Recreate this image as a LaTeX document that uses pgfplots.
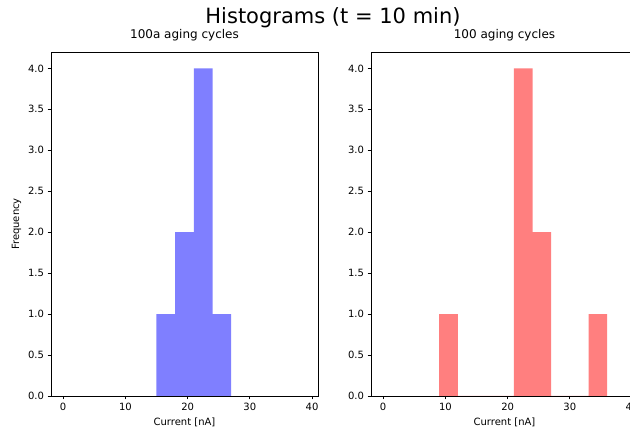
\documentclass[border=0pt]{standalone}
\usepackage{fontspec}
\setmainfont{DejaVu Sans}
\usepackage{pgfplots}
\pgfplotsset{compat=1.18}

\definecolor{histblue}{HTML}{7F7FFF}
\definecolor{histred}{HTML}{FF7F7F}

\pgfplotsset{
  histax/.style={
    scale only axis, width=267pt, height=344pt, anchor=south west,
    xmin=-1.95, xmax=40.95, ymin=0, ymax=4.2,
    xtick={0,10,20,30,40},
    ytick={0,0.5,1,1.5,2,2.5,3,3.5,4},
    yticklabel style={/pgf/number format/fixed, /pgf/number format/precision=1,
      /pgf/number format/fixed zerofill},
    /pgf/number format/assume math mode=true,
    tick align=outside, tick pos=left, major tick length=3.5pt,
    every tick/.style={black, line width=0.8pt},
    axis line style={black, line width=0.8pt},
    ticklabel style={font=\fontsize{10}{12}\selectfont},
    label style={font=\fontsize{10}{12}\selectfont},
    title style={font=\fontsize{12}{14}\selectfont, at={(0.5,1)}, anchor=base, yshift=7pt},
    xlabel={Current [nA]},
  },
}

\begin{document}
\begin{tikzpicture}
\path[use as bounding box, clip] (0,0) rectangle (630pt,434pt);

\node[font=\fontsize{21}{25}\selectfont] at (333pt,416pt) {Histograms (t = 10 min)};

\begin{axis}[histax, at={(51pt,38pt)}, title={100a aging cycles}, ylabel={Frequency}]
\addplot[ybar interval, fill=histblue, draw=none]
  coordinates {(15,1) (18,2) (21,4) (24,1) (27,1)};
\end{axis}

\begin{axis}[histax, at={(371pt,38pt)}, title={100 aging cycles}]
\addplot[ybar interval, fill=histred, draw=none]
  coordinates {(9,1) (12,0) (21,4) (24,2) (27,0) (33,1) (36,0)};
\end{axis}
\end{tikzpicture}
\end{document}
